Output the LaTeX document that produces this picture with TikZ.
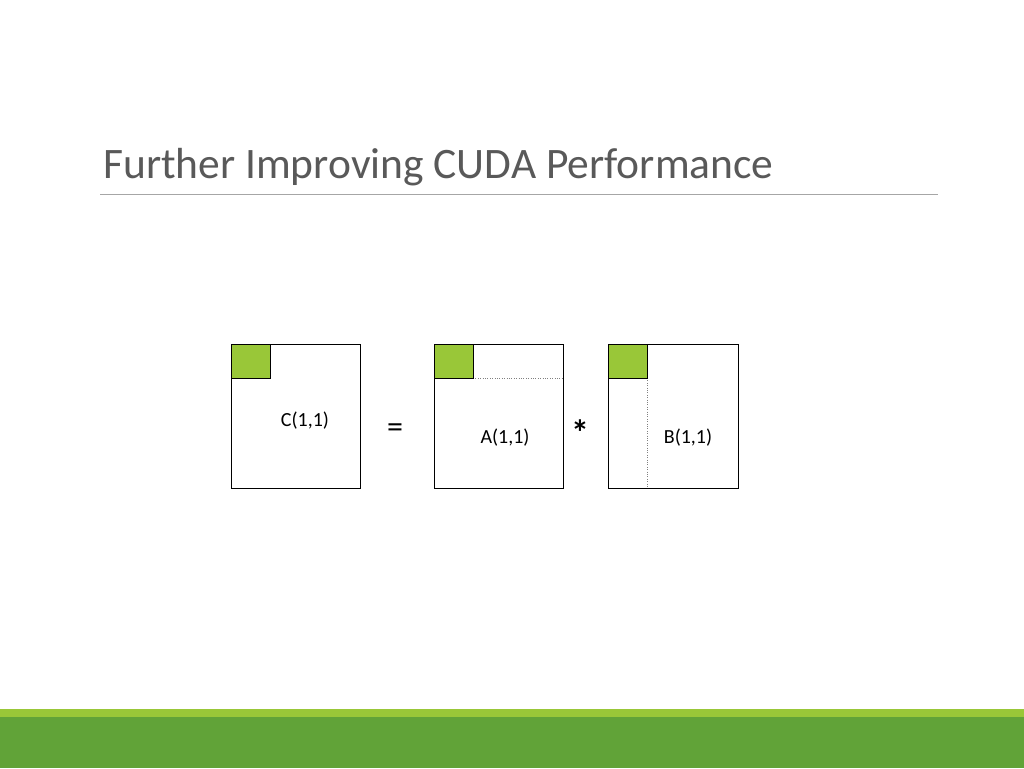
\documentclass[tikz,border=0pt]{standalone}
\usepackage{fontspec}
\setmainfont{Carlito}
\definecolor{lgreen}{rgb}{0.6,0.78,0.22}
\definecolor{dgreen}{rgb}{0.38,0.64,0.22}
\definecolor{titlegray}{rgb}{0.35,0.35,0.35}
\tikzset{mat/.style={draw,line width=0.8pt},
blk/.style={draw,line width=0.8pt,fill=lgreen},
lbl/.style={font=\fontsize{20}{20}\selectfont}}
\begin{document}
\begin{tikzpicture}[x=1pt,y=-1pt]
\useasboundingbox (0,0) rectangle (1024,768);
\fill[lgreen] (0,709) rectangle (1024,717);
\fill[dgreen] (0,717) rectangle (1024,768);
\node[anchor=base west,text=titlegray,font=\fontsize{43.5}{43.5}\selectfont,inner sep=0] (title) at (103,178) {Further Improving CUDA Performance};
\draw[gray!70,line width=0.6pt] (100,194) -- (938,194);
% C
\draw[mat] (231,344) rectangle (360,488);
\draw[blk] (231,344) rectangle (270,378);
\node[lbl] (cl) at (305,421) {C(1,1)};
\node[font=\fontsize{32}{32}\selectfont] (eq) at (395,431) {=};
% A
\draw[mat] (434,344) rectangle (563,488);
\draw[gray,dotted] (473,378) -- (563,378);
\draw[blk] (434,344) rectangle (473,378);
\node[lbl] (al) at (505,438) {A(1,1)};
\node[font=\fontsize{36}{36}\selectfont\bfseries] (star) at (580,433) {*};
% B
\draw[mat] (608,344) rectangle (738,488);
\draw[gray,dotted] (647,378) -- (647,488);
\draw[blk] (608,344) rectangle (647,378);
\node[lbl] (bl) at (688,438) {B(1,1)};
\end{tikzpicture}
\end{document}
